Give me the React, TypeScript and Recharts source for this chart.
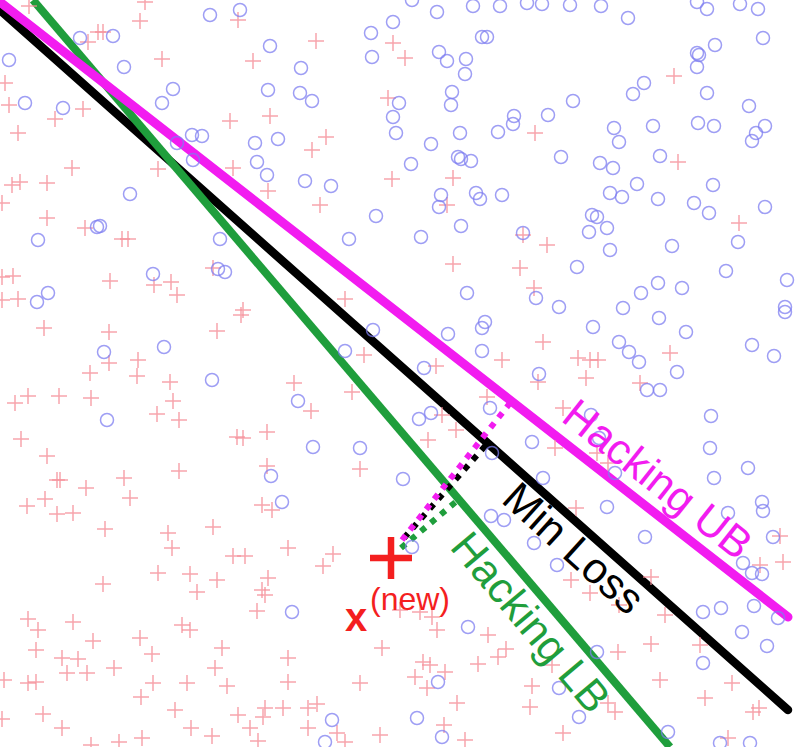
import React from 'react';
import { ScatterChart, Scatter, XAxis, YAxis, ReferenceLine, ReferenceDot } from 'recharts';

// class "o" samples (x, y) in plot units, y grows downward
const circlePoints: [number, number][] = [
  [210, 15], [240, 10], [113, 36], [80, 38], [9, 60], [124, 67], [173, 89], [162, 103], [25, 103], [63, 108],
  [192, 135], [202, 136], [177, 143], [255, 143], [257, 162], [193, 160], [130, 194], [97, 227], [100, 226], [38, 240],
  [220, 239], [412, 0], [437, 12], [473, 6], [500, 6], [527, 3], [393, 22], [371, 33], [482, 37], [487, 37],
  [270, 46], [372, 57], [439, 52], [447, 61], [466, 59], [301, 68], [465, 74], [268, 90], [300, 93], [312, 101],
  [452, 92], [451, 105], [399, 103], [393, 117], [396, 133], [278, 139], [460, 133], [498, 132], [514, 116], [513, 124],
  [431, 144], [458, 157], [461, 159], [471, 161], [411, 164], [267, 175], [305, 181], [331, 186], [441, 195], [439, 207],
  [476, 193], [480, 199], [502, 195], [376, 216], [461, 226], [349, 239], [421, 237], [523, 233], [542, 4], [570, 5],
  [601, 6], [628, 18], [697, 2], [707, 9], [740, 4], [758, 9], [763, 38], [715, 45], [697, 53], [699, 55],
  [697, 67], [644, 83], [633, 94], [573, 101], [707, 93], [548, 115], [749, 106], [614, 128], [619, 142], [653, 126],
  [698, 123], [714, 126], [756, 133], [765, 126], [752, 141], [561, 157], [600, 163], [613, 168], [660, 156], [637, 184],
  [713, 185], [610, 193], [622, 197], [658, 199], [694, 203], [709, 213], [765, 207], [592, 215], [597, 217], [589, 232],
  [607, 228], [672, 246], [738, 242], [610, 250], [153, 274], [48, 293], [37, 302], [218, 269], [225, 272], [104, 352],
  [164, 347], [212, 380], [107, 420], [271, 476], [467, 293], [485, 322], [482, 328], [482, 351], [373, 330], [345, 351],
  [424, 368], [298, 401], [419, 419], [431, 413], [490, 408], [313, 447], [360, 448], [403, 479], [492, 453], [448, 334],
  [577, 267], [726, 271], [787, 280], [658, 283], [641, 293], [682, 288], [536, 298], [559, 307], [623, 308], [659, 318],
  [785, 307], [785, 312], [593, 327], [686, 332], [619, 342], [629, 352], [639, 362], [752, 345], [774, 356], [677, 372],
  [539, 374], [647, 390], [660, 390], [711, 416], [591, 415], [710, 448], [748, 468], [714, 478], [532, 442], [599, 438],
  [543, 478], [615, 473], [282, 502], [292, 612], [412, 547], [491, 516], [504, 520], [534, 543], [438, 682], [417, 718],
  [332, 720], [325, 742], [442, 737], [468, 627], [607, 507], [645, 537], [728, 513], [762, 502], [763, 511], [773, 537],
  [743, 563], [752, 573], [762, 574], [557, 565], [703, 612], [721, 608], [754, 606], [778, 618], [742, 632], [767, 646],
  [703, 663], [597, 652], [559, 688], [579, 717], [668, 732], [720, 743], [750, 743],
];

// class "+" samples
const crossPoints: [number, number][] = [
  [145, 2], [140, 21], [238, 20], [98, 32], [103, 32], [29, 6], [88, 42], [162, 59], [253, 61], [5, 83],
  [9, 105], [83, 109], [55, 119], [230, 121], [18, 133], [72, 168], [158, 169], [233, 168], [20, 182], [12, 185],
  [47, 183], [47, 218], [85, 228], [122, 239], [128, 239], [2, 203], [316, 41], [393, 43], [405, 58], [388, 98],
  [270, 116], [326, 137], [312, 150], [392, 179], [453, 178], [268, 191], [320, 205], [447, 205], [523, 235], [535, 133],
  [674, 76], [678, 162], [739, 223], [547, 245], [13, 276], [2, 277], [18, 299], [2, 300], [110, 281], [154, 285],
  [171, 282], [177, 295], [213, 268], [243, 310], [241, 315], [44, 328], [109, 332], [217, 331], [109, 363], [138, 360],
  [90, 373], [137, 376], [170, 382], [28, 396], [15, 403], [59, 396], [91, 398], [173, 401], [157, 414], [179, 420],
  [21, 439], [237, 437], [243, 438], [47, 456], [57, 480], [60, 480], [124, 478], [86, 488], [179, 471], [453, 264],
  [520, 268], [534, 288], [345, 299], [364, 355], [436, 366], [502, 360], [294, 383], [352, 392], [311, 411], [442, 415],
  [487, 397], [456, 430], [428, 440], [267, 432], [267, 466], [360, 469], [543, 342], [578, 358], [590, 360], [598, 360],
  [586, 378], [538, 382], [670, 353], [640, 383], [563, 408], [555, 448], [597, 453], [608, 463], [27, 506], [45, 499],
  [57, 514], [73, 513], [130, 498], [105, 529], [168, 533], [172, 548], [213, 527], [233, 556], [245, 556], [262, 505],
  [158, 573], [190, 574], [217, 580], [197, 592], [103, 584], [262, 590], [265, 595], [257, 611], [268, 578], [28, 619],
  [38, 630], [73, 622], [182, 625], [190, 630], [140, 638], [93, 641], [36, 650], [222, 648], [152, 654], [62, 658],
  [78, 659], [67, 673], [87, 673], [114, 668], [215, 668], [4, 680], [28, 683], [36, 682], [153, 683], [187, 683],
  [227, 686], [141, 697], [175, 710], [43, 714], [2, 719], [238, 715], [265, 708], [263, 717], [62, 728], [191, 728],
  [250, 728], [212, 736], [142, 738], [119, 742], [91, 745], [258, 741], [272, 510], [288, 548], [323, 566], [333, 554],
  [400, 610], [420, 612], [432, 617], [437, 630], [382, 648], [488, 635], [498, 657], [506, 649], [478, 664], [288, 658],
  [288, 682], [360, 683], [415, 677], [423, 662], [430, 665], [445, 672], [427, 688], [457, 703], [283, 708], [308, 708],
  [317, 704], [308, 728], [337, 733], [380, 735], [444, 725], [465, 740], [345, 742], [576, 508], [571, 580], [590, 593],
  [619, 605], [665, 615], [651, 577], [700, 645], [618, 652], [651, 644], [760, 565], [783, 562], [780, 536], [660, 680],
  [732, 683], [705, 698], [753, 712], [759, 708], [563, 733], [608, 703], [615, 712], [532, 686], [552, 665], [728, 738],
  [530, 707],
];

const newPoint = [{ x: 391, y: 558 }];

// decision boundaries, end points
const upperBound = [{ x: 0, y: 2 }, { x: 788, y: 617 }];
const minLoss = [{ x: 0, y: 10 }, { x: 788, y: 710 }];
const lowerBound = [{ x: 33, y: 0 }, { x: 670, y: 747 }];

// distances from the new point to each boundary
const distUpper = [{ x: 402, y: 540 }, { x: 510, y: 403 }];
const distMin = [{ x: 404, y: 538 }, { x: 486, y: 445 }];
const distLower = [{ x: 401, y: 548 }, { x: 458, y: 500 }];

const boundaryLabels = [
  { text: 'Hacking UB', x: 658, y: 479, angle: 38.5, color: '#f21cf0' },
  { text: 'Min Loss', x: 574, y: 548, angle: 42, color: '#000000' },
  { text: 'Hacking LB', x: 531, y: 622, angle: 50, color: '#1f9e3c' },
];

const toXY = (pts: [number, number][]) => pts.map(([x, y]) => ({ x, y }));

const MAGENTA = '#f21cf0';
const GREEN = '#1f9e3c';
const RED = '#f41f1f';
const FONT = '"Liberation Sans", Arial, sans-serif';

const CircleMark = (p: any) => (
  <circle cx={p.cx} cy={p.cy} r={6.5} fill="none" stroke="#7e7ef0" strokeOpacity={0.75} strokeWidth={1.5} />
);

const CrossMark = (p: any) => (
  <path d={`M${p.cx - 8},${p.cy}h16M${p.cx},${p.cy - 8}v16`} stroke="#f58e98" strokeOpacity={0.8} strokeWidth={1.5} />
);

const BigCross = (p: any) => (
  <path d={`M${p.cx - 21},${p.cy}h42M${p.cx},${p.cy - 21}v42`} stroke={RED} strokeWidth={6.5} />
);

export default function App() {
  return (
    <div style={{ position: 'absolute', left: 0, top: 0, background: '#fff' }}>
      <ScatterChart width={800} height={747} margin={{ top: 0, right: 0, bottom: 0, left: 0 }}>
        <XAxis type="number" dataKey="x" domain={[0, 800]} hide allowDataOverflow />
        <YAxis type="number" dataKey="y" domain={[0, 747]} reversed hide allowDataOverflow />
        <Scatter data={toXY(crossPoints)} shape={CrossMark} isAnimationActive={false} />
        <Scatter data={toXY(circlePoints)} shape={CircleMark} isAnimationActive={false} />

        <ReferenceLine segment={minLoss} stroke="#000" strokeWidth={8.5} strokeLinecap="round" />
        <ReferenceLine segment={lowerBound} stroke={GREEN} strokeWidth={8} />
        <ReferenceLine segment={upperBound} stroke={MAGENTA} strokeWidth={9} strokeLinecap="round" />

        <ReferenceLine segment={distLower} stroke={GREEN} strokeWidth={6} strokeDasharray="6 7" />
        <ReferenceLine segment={distMin} stroke="#000" strokeWidth={6} strokeDasharray="6 7" />
        <ReferenceLine segment={distUpper} stroke={MAGENTA} strokeWidth={6} strokeDasharray="6 7" />

        <Scatter data={newPoint} shape={BigCross} isAnimationActive={false} />

        {boundaryLabels.map((l) => (
          <ReferenceDot
            key={l.text}
            x={l.x}
            y={l.y}
            shape={(p: any) => (
              <text
                x={p.cx}
                y={p.cy}
                fill={l.color}
                fontFamily={FONT}
                fontSize={43}
                textAnchor="middle"
                dominantBaseline="central"
                transform={`rotate(${l.angle}, ${p.cx}, ${p.cy})`}
              >
                {l.text}
              </text>
            )}
          />
        ))}
        <ReferenceDot
          x={356}
          y={617}
          shape={(p: any) => (
            <text x={p.cx} y={p.cy} fill={RED} fontFamily={FONT} fontSize={40} fontWeight="bold"
              textAnchor="middle" dominantBaseline="central">
              x
            </text>
          )}
        />
        <ReferenceDot
          x={410}
          y={599}
          shape={(p: any) => (
            <text x={p.cx} y={p.cy} fill={RED} fontFamily={FONT} fontSize={32}
              textAnchor="middle" dominantBaseline="central">
              (new)
            </text>
          )}
        />
      </ScatterChart>
    </div>
  );
}
